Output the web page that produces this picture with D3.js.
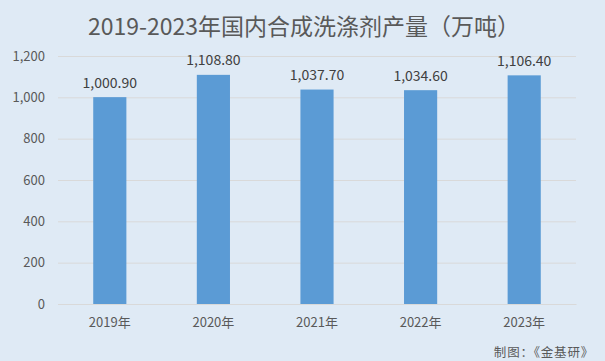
<!DOCTYPE html>
<html><head><meta charset="utf-8">
<script src="https://cdn.jsdelivr.net/npm/d3@7"></script>
<style>body{margin:0;background:#dfeaf5;}svg{display:block;}</style>
</head><body>
<script>
const categories = ["2019年","2020年","2021年","2022年","2023年"];
const values = [1000.90, 1108.80, 1037.70, 1034.60, 1106.40];
const yTicks = [0,200,400,600,800,1000,1200];
const title = "2019-2023年国内合成洗涤剂产量（万吨）";
const credit = "制图：《金基研》";

const W=605,H=361;
const m={left:58,right:29,top:56,bottom:57};
const font='"Microsoft YaHei","Noto Sans CJK SC","Noto Sans",sans-serif';
const svg=d3.select("body").append("svg").attr("width",W).attr("height",H);
svg.append("rect").attr("width",W).attr("height",H).attr("fill","#dfeaf5");
const x=d3.scaleBand().domain(categories).range([m.left,W-m.right]).paddingInner(0.68).paddingOuter(0.34);
const y=d3.scaleLinear().domain([0,1200]).range([H-m.bottom,m.top]);

svg.append("text").attr("x",304).attr("y",35).attr("text-anchor","middle")
  .attr("font-family",font).attr("font-size",23).attr("fill","#595959").text(title);

const gy=svg.append("g").attr("transform",`translate(${m.left},0)`)
  .call(d3.axisLeft(y).tickValues(yTicks).tickSize(-(W-m.left-m.right)).tickPadding(13).tickFormat(d3.format(",")));
gy.select(".domain").remove();
gy.selectAll(".tick line").attr("stroke","#d9d9d9");
gy.selectAll(".tick text").attr("font-family",font).attr("font-size",13).attr("fill","#595959");

svg.selectAll("rect.bar").data(values).join("rect").attr("class","bar")
  .attr("x",(d,i)=>x(categories[i])).attr("width",x.bandwidth())
  .attr("y",d=>y(d)).attr("height",d=>y(0)-y(d)).attr("fill","#5b9bd5");

svg.selectAll("text.lbl").data(values).join("text").attr("class","lbl")
  .attr("x",(d,i)=>x(categories[i])+x.bandwidth()/2).attr("y",d=>y(d)-9.5)
  .attr("text-anchor","middle").attr("font-family",font).attr("font-size",14).attr("fill","#404040")
  .text(d=>d3.format(",.2f")(d));

const gx=svg.append("g").attr("transform",`translate(0,${H-m.bottom})`)
  .call(d3.axisBottom(x).tickSize(0).tickPadding(14));
gx.select(".domain").attr("stroke","#d9d9d9");
gx.selectAll(".tick text").attr("font-family",font).attr("font-size",13).attr("fill","#595959");

svg.append("text").attr("x",594).attr("y",357).attr("text-anchor","end")
  .attr("font-family",font).attr("font-size",12.5).attr("letter-spacing",0.8).attr("fill","#595959").text(credit);
</script>
</body></html>
